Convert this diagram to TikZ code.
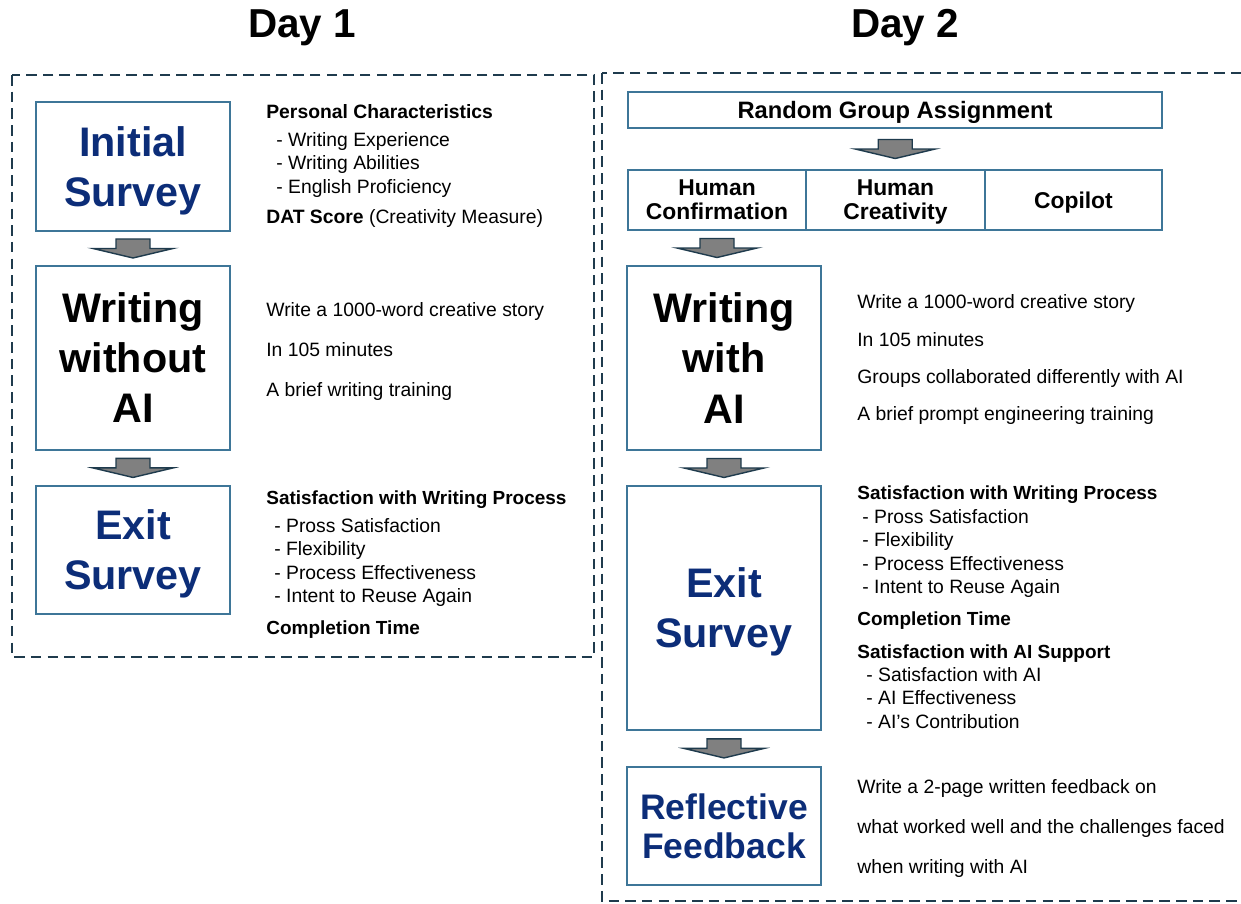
\documentclass[tikz,border=0pt]{standalone}
\usepackage{fontspec}
\setmainfont{Liberation Sans}
\usetikzlibrary{positioning,calc}

\definecolor{frameline}{HTML}{1F3B4D}
\definecolor{boxline}{HTML}{3E7698}
\definecolor{titleblue}{HTML}{0C2D78}
\definecolor{arrowgray}{HTML}{808080}

\tikzset{
  stagebox/.style={draw=boxline, line width=0.8pt, align=center,
    font=\fontsize{23.5}{28.5}\selectfont\bfseries, text depth=0pt,
    minimum width=3.88cm, inner sep=0pt, outer sep=0pt},
  groupbox/.style={draw=boxline, line width=0.8pt, align=center,
    font=\fontsize{13}{13.7}\selectfont\bfseries, text depth=0pt,
    minimum height=1.2cm, inner sep=0pt, outer sep=0pt},
  daybox/.style={draw=frameline, line width=1.1pt, dash pattern=on 6pt off 3.5pt},
  side/.style={anchor=mid west, inner sep=0pt, yshift=-0.05cm,
    font=\fontsize{11}{13}\selectfont},
  sidehead/.style={side, font=\fontsize{10.8}{13}\selectfont\bfseries},
  daytitle/.style={font=\fontsize{23}{26}\selectfont\bfseries},
  downarrow/.pic={
    \filldraw[fill=arrowgray, draw=frameline, line width=0.8pt]
      (-17,-9.5) -- (17,-9.5) -- (17,0) -- (40,0) -- (0,9.5)
      -- (-40,0) -- (-17,0) -- cycle;
  }
}

\begin{document}
\begin{tikzpicture}[x=0.02cm, y=-0.02cm]
    \useasboundingbox (0,0) rectangle (1241,903);

    % day headings and frames
    \node[daytitle] (day1) at (302,28) {Day 1};
    \node[daytitle] (day2) at (905,28) {Day 2};
    \draw[daybox] (12,75) rectangle (594,657);
    \draw[daybox] (602,73) rectangle (1262,901);

    % Day 1 boxes
    \node[stagebox, minimum height=2.58cm, text=titleblue] (init) at (133,166.5)
        {Initial\\Survey};
    \node[stagebox, minimum height=3.68cm, below=0.7cm of init] (wwo)
        {Writing\\without\\AI};
    \node[stagebox, minimum height=2.56cm, text=titleblue, below=0.72cm of wwo]
        (exit1) {Exit\\Survey};

    \pic at ($(init.south)!0.5!(wwo.north)$) {downarrow};
    \pic at ($(wwo.south)!0.5!(exit1.north)$) {downarrow};

    % Day 1 texts
    \node[sidehead, font=\fontsize{11}{13}\selectfont\bfseries] (pc) at (266,111)
        {Personal Characteristics};
    \foreach \y/\t [count=\i] in {139/Writing Experience, 162/Writing Abilities,
        186/English Proficiency}
        \node[side] (pc\i) at (276,\y) {- \t};
    \node[side] (dat) at (266,216) {\textbf{DAT Score} (Creativity Measure)};
    \node[side] (w1a) at (266,309) {Write a 1000-word creative story};
    \node[side] (w1b) at (266,349) {In 105 minutes};
    \node[side] (w1c) at (266,389) {A brief writing training};
    \node[sidehead] (sat1) at (266,497) {Satisfaction with Writing Process};
    \foreach \y/\t [count=\i] in {525/Pross Satisfaction, 548/Flexibility,
        572/Process Effectiveness, 595/Intent to Reuse Again}
        \node[side] (sat1\i) at (274,\y) {- \t};
    \node[sidehead] (ct1) at (266,627) {Completion Time};

    % Day 2 boxes
    \node[groupbox, minimum width=10.68cm, minimum height=0.72cm,
        font=\fontsize{13.5}{15}\selectfont\bfseries] (rga) at (895,110)
        {Random Group Assignment};
    \node[groupbox, minimum width=3.56cm] (hc) at (717,200) {Human\\Confirmation};
    \node[groupbox, minimum width=3.58cm, right=0pt of hc] (hcr) {Human\\Creativity};
    \node[groupbox, minimum width=3.54cm, right=0pt of hcr] (cop) {Copilot};

    \node[stagebox, minimum height=3.68cm] (wai) at (724,358) {Writing\\with\\AI};
    \node[stagebox, minimum height=4.88cm, text=titleblue, below=0.72cm of wai]
        (exit2) {Exit\\Survey};
    \node[stagebox, minimum height=2.36cm, text=titleblue, below=0.74cm of exit2,
        font=\fontsize{20.2}{22}\selectfont\bfseries] (refl) {Reflective\\Feedback};

    \pic at ($(rga.south)!0.5!(hcr.north)$) {downarrow};
    \pic at ($(hc.south)!0.5!(hc.south |- wai.north)$) {downarrow};
    \pic at ($(wai.south)!0.5!(exit2.north)$) {downarrow};
    \pic at ($(exit2.south)!0.5!(refl.north)$) {downarrow};

    % Day 2 texts
    \node[side] (w2a) at (857,301) {Write a 1000-word creative story};
    \node[side] (w2b) at (857,339) {In 105 minutes};
    \node[side] (w2c) at (857,376) {Groups collaborated differently with AI};
    \node[side] (w2d) at (857,413) {A brief prompt engineering training};
    \node[sidehead] (sat2) at (857,492) {Satisfaction with Writing Process};
    \foreach \y/\t [count=\i] in {516/Pross Satisfaction, 539/Flexibility,
        563/Process Effectiveness, 586/Intent to Reuse Again}
        \node[side] (sat2\i) at (862,\y) {- \t};
    \node[sidehead] (ct2) at (857,618) {Completion Time};
    \node[sidehead] (aisat) at (857,651) {Satisfaction with AI Support};
    \foreach \y/\t [count=\i] in {674/Satisfaction with AI, 697/AI Effectiveness,
        721/AI’s Contribution}
        \node[side] (aisat\i) at (866,\y) {- \t};
    \node[side] (fb1) at (857,786) {Write a 2-page written feedback on};
    \node[side] (fb2) at (857,826) {what worked well and the challenges faced};
    \node[side] (fb3) at (857,866) {when writing with AI};
\end{tikzpicture}
\end{document}
